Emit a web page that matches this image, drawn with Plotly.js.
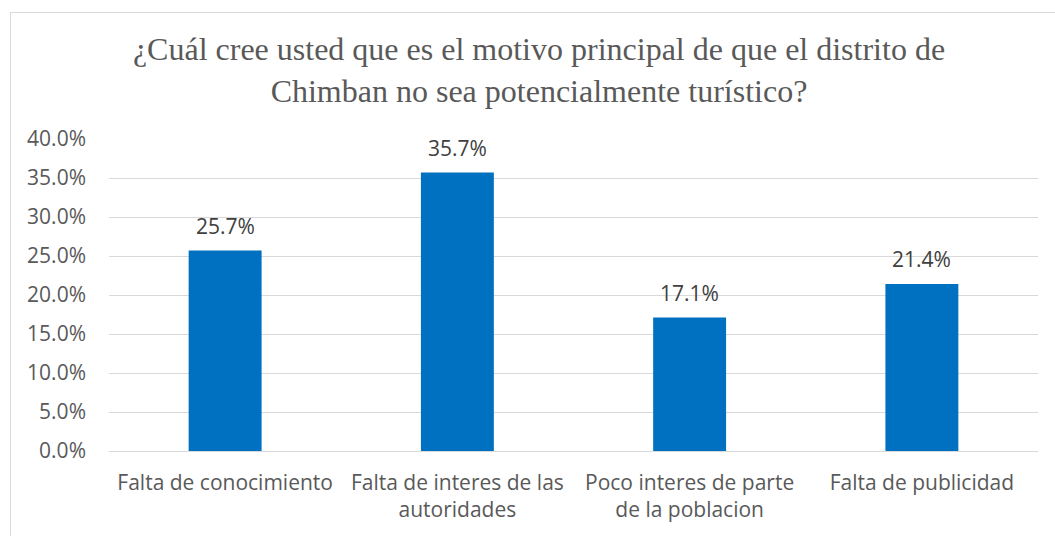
<!DOCTYPE html>
<html>
<head>
<meta charset="utf-8">
<script src="https://cdn.plot.ly/plotly-3.0.1.min.js"></script>
<style>
html,body{margin:0;padding:0;background:#fff;}
#frame{position:absolute;left:10px;top:12px;width:1060px;height:540px;border-left:1px solid #d9d9d9;border-top:1px solid #d9d9d9;}
#chart{position:absolute;left:0;top:0;width:1055px;height:536px;}
</style>
</head>
<body>
<div id="frame"></div>
<div id="chart"></div>
<script>
const categories = ["Falta de conocimiento", "Falta de interes de las<br>autoridades", "Poco interes de parte<br>de la poblacion", "Falta de publicidad"];
const values = [0.257, 0.357, 0.171, 0.214];
const valueLabels = ["25.7%", "35.7%", "17.1%", "21.4%"];
const titleText = "¿Cuál cree usted que es el motivo principal de que el distrito de<br>Chimban no sea potencialmente turístico?";

const sansFamily = "Open Sans, sans-serif";
const serifFamily = "Liberation Serif, Times New Roman, serif";

const trace = {
  type: "bar",
  x: categories,
  y: values,
  marker: {color: "#0070c0"},
  hoverinfo: "skip"
};

const H = 536, T = 139, B = 85;

const annotations = categories.map((c, i) => ({
  x: c, y: values[i], xref: "x", yref: "y",
  text: valueLabels[i], showarrow: false,
  yanchor: "bottom", yshift: 9,
  font: {family: sansFamily, size: 21, color: "#404040"}
}));

const layout = {
  width: 1055, height: H,
  margin: {l: 109, r: 17, t: T, b: B},
  paper_bgcolor: "rgba(0,0,0,0)",
  plot_bgcolor: "rgba(0,0,0,0)",
  title: {
    text: titleText,
    font: {family: serifFamily, size: 32, color: "#595959"},
    x: 539/1055, xref: "container", xanchor: "center",
    y: 1 - 60/H, yref: "container", yanchor: "middle"
  },
  bargap: 0.686,
  showlegend: false,
  xaxis: {
    tickfont: {family: sansFamily, size: 21, color: "#595959"},
    showgrid: false,
    showline: false,
    ticks: "",
    ticklabelstandoff: 17
  },
  yaxis: {
    range: [0, 0.40],
    dtick: 0.05,
    tickformat: ".1%",
    tickfont: {family: sansFamily, size: 21, color: "#595959"},
    gridcolor: "#d9d9d9",
    gridwidth: 1,
    zeroline: true,
    zerolinecolor: "#d9d9d9",
    zerolinewidth: 1,
    showline: false,
    ticks: "",
    ticklabelstandoff: 22
  },
  annotations: annotations
};

Plotly.newPlot("chart", [trace], layout, {displayModeBar: false, staticPlot: true});
</script>
</body>
</html>
